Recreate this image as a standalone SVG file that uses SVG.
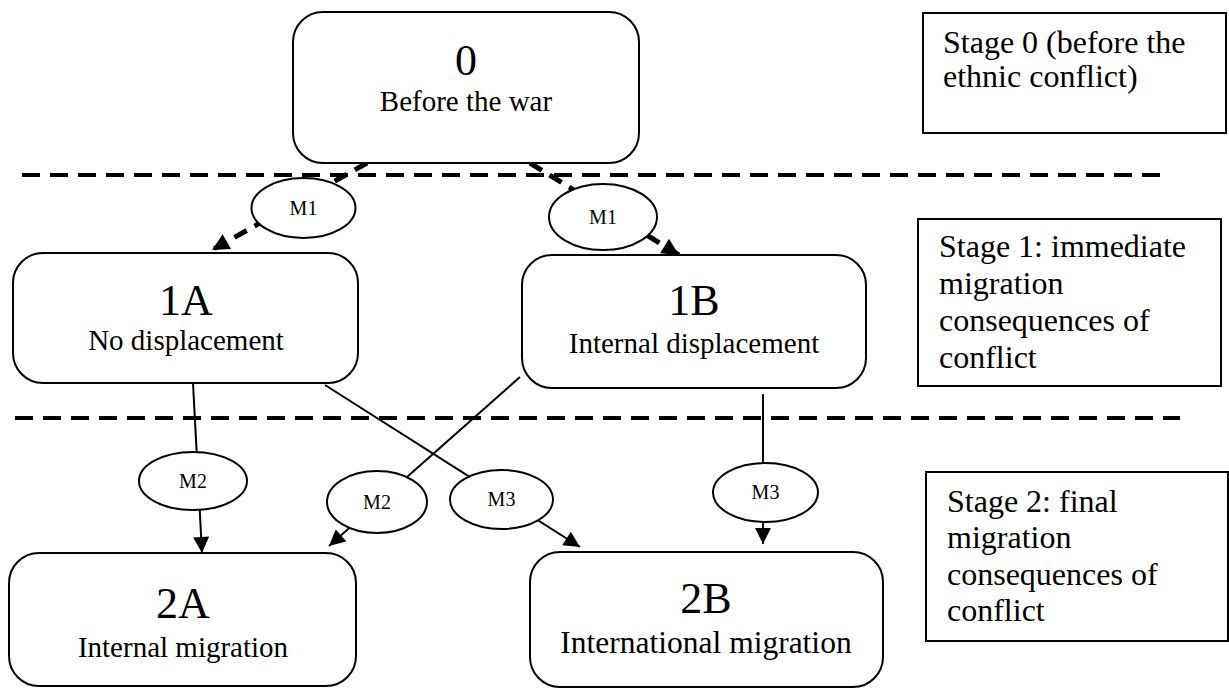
<svg xmlns="http://www.w3.org/2000/svg" width="1229" height="688" viewBox="0 0 1229 688">
<style>
.box{fill:#fff;stroke:#000;stroke-width:2}
.stage{fill:#fff;stroke:#000;stroke-width:2}
.ell{fill:#fff;stroke:#000;stroke-width:2}
.big{font-family:"Liberation Serif","Times New Roman",serif;font-size:44px;text-anchor:middle;fill:#000}
.sub{font-family:"Liberation Serif","Times New Roman",serif;font-size:29px;text-anchor:middle;fill:#000}
.st{font-family:"Liberation Serif","Times New Roman",serif;font-size:32px;fill:#000}
.m{font-family:"Liberation Serif","Times New Roman",serif;font-size:20px;text-anchor:middle;fill:#000}
.sep{stroke:#000;stroke-width:4;stroke-dasharray:18 10;fill:none}
.dcon{stroke:#000;stroke-width:5;stroke-dasharray:14 9;fill:none}
.con{stroke:#000;stroke-width:2;fill:none}
</style>
<defs>
<marker id="ahs" viewBox="0 0 10 10" refX="10" refY="5" markerWidth="17" markerHeight="16" markerUnits="userSpaceOnUse" orient="auto">
<path d="M0,0 L10,5 L0,10 z" fill="#000"/>
</marker>
<marker id="ahd" viewBox="0 0 10 10" refX="10" refY="5" markerWidth="20" markerHeight="17" markerUnits="userSpaceOnUse" orient="auto">
<path d="M0,0 L10,5 L0,10 z" fill="#000"/>
</marker>
</defs>
<g id="separators">
<line class="sep" x1="22" y1="175" x2="1160" y2="175"/>
<line class="sep" x1="15" y1="418" x2="1180" y2="418"/>
</g>
<g id="connectors">
<line class="dcon" x1="367" y1="163" x2="212" y2="250" marker-end="url(#ahd)"/>
<line class="dcon" x1="530" y1="163" x2="679" y2="255" marker-end="url(#ahd)"/>
<line class="con" x1="193" y1="383" x2="202" y2="553" marker-end="url(#ahs)"/>
<line class="con" x1="325" y1="385" x2="580" y2="547" marker-end="url(#ahs)"/>
<line class="con" x1="520" y1="377" x2="329" y2="546" marker-end="url(#ahs)"/>
<line class="con" x1="763" y1="394" x2="763" y2="544" marker-end="url(#ahs)"/>
</g>
<g id="node-0">
<rect class="box" x="293" y="12" width="346" height="151" rx="30"/>
<text class="big" x="466" y="75">0</text>
<text class="sub" x="466" y="111">Before the war</text>
</g>
<g id="node-1A">
<rect class="box" x="13" y="253" width="345" height="130" rx="30"/>
<text class="big" x="186" y="315">1A</text>
<text class="sub" x="186" y="350">No displacement</text>
</g>
<g id="node-1B">
<rect class="box" x="522" y="255" width="344" height="133" rx="30"/>
<text class="big" x="694" y="315">1B</text>
<text class="sub" x="694" y="353">Internal displacement</text>
</g>
<g id="node-2A">
<rect class="box" x="9" y="553" width="347" height="133" rx="30"/>
<text class="big" x="183" y="618">2A</text>
<text class="sub" x="183" y="657">Internal migration</text>
</g>
<g id="node-2B">
<rect class="box" x="530" y="552" width="353" height="135" rx="30"/>
<text class="big" x="706" y="613">2B</text>
<text class="sub" x="706" y="653" style="font-size:31.5px">International migration</text>
</g>
<g id="m1-left">
<ellipse class="ell" cx="303.5" cy="208" rx="52" ry="30"/>
<text class="m" x="303.5" y="215">M1</text>
</g>
<g id="m1-right">
<ellipse class="ell" cx="603" cy="217" rx="54" ry="33"/>
<text class="m" x="603" y="224">M1</text>
</g>
<g id="m2-left">
<ellipse class="ell" cx="193" cy="481" rx="54" ry="29"/>
<text class="m" x="193" y="488">M2</text>
</g>
<g id="m2-mid">
<ellipse class="ell" cx="377" cy="502" rx="50" ry="31"/>
<text class="m" x="377" y="509">M2</text>
</g>
<g id="m3-mid">
<ellipse class="ell" cx="501.5" cy="499.5" rx="51.5" ry="29.5"/>
<text class="m" x="501.5" y="506">M3</text>
</g>
<g id="m3-right">
<ellipse class="ell" cx="765.5" cy="492.5" rx="52.5" ry="29.5"/>
<text class="m" x="765.5" y="499">M3</text>
</g>
<g id="stage-0">
<rect class="stage" x="923" y="13" width="303" height="120"/>
<text class="st" x="943" y="53">Stage 0 (before the</text>
<text class="st" x="943" y="87">ethnic conflict)</text>
</g>
<g id="stage-1">
<rect class="stage" x="918" y="219" width="303" height="167"/>
<text class="st" x="939" y="257">Stage 1: immediate</text>
<text class="st" x="939" y="294">migration</text>
<text class="st" x="939" y="331">consequences of</text>
<text class="st" x="939" y="368">conflict</text>
</g>
<g id="stage-2">
<rect class="stage" x="926" y="472" width="302" height="169"/>
<text class="st" x="947" y="512">Stage 2: final</text>
<text class="st" x="947" y="548">migration</text>
<text class="st" x="947" y="585">consequences of</text>
<text class="st" x="947" y="621">conflict</text>
</g>
</svg>
